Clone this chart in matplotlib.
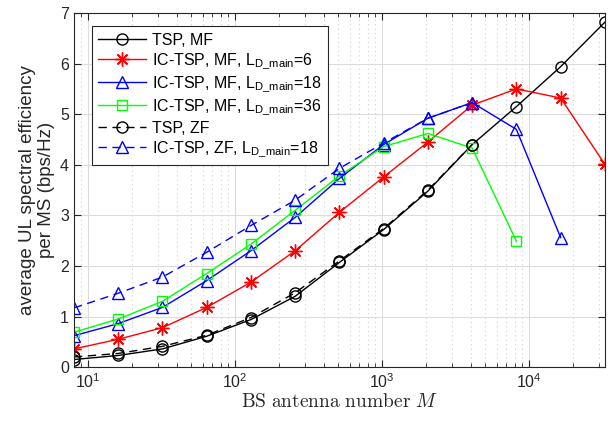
import matplotlib
matplotlib.use("Agg")
import matplotlib.pyplot as plt
from matplotlib.ticker import LogLocator, NullFormatter

plt.rcParams['font.family'] = ['Liberation Sans', 'DejaVu Sans']
plt.rcParams['mathtext.fontset'] = 'custom'
plt.rcParams['mathtext.rm'] = 'Liberation Sans'
plt.rcParams['mathtext.it'] = 'Liberation Sans:italic'

# BS antenna numbers
M = [8, 16, 32, 64, 128, 256, 512, 1024, 2048, 4096, 8192, 16384, 32768]

tsp_mf = [0.15, 0.23, 0.36, 0.61, 0.94, 1.40, 2.07, 2.72, 3.48, 4.40, 5.15, 5.94, 6.82]
ic_mf_6 = [0.36, 0.55, 0.78, 1.18, 1.68, 2.30, 3.06, 3.76, 4.45, 5.18, 5.50, 5.32, 4.01]
ic_mf_18 = [0.62, 0.86, 1.18, 1.71, 2.30, 2.96, 3.73, 4.40, 4.92, 5.23, 4.70, 2.56]
ic_mf_36 = [0.69, 0.95, 1.30, 1.85, 2.43, 3.10, 3.78, 4.36, 4.62, 4.33, 2.49]
tsp_zf = [0.20, 0.27, 0.41, 0.63, 0.98, 1.47, 2.10, 2.74, 3.50, 4.40]
ic_zf_18 = [1.17, 1.46, 1.78, 2.27, 2.80, 3.30, 3.93, 4.43, 4.92, 5.23]

fig = plt.figure(figsize=(6.11, 4.21), dpi=100)
ax = fig.add_axes([0.121, 0.128, 0.869, 0.841])

ms = 8
ax.plot(M, tsp_mf, '-', color='k', marker='o', mfc='none', ms=ms, lw=1,
        label='TSP, MF')
ax.plot(M, ic_mf_6, '-', color='r', marker=(8, 2, 0), mec='r', ms=ms + 2, lw=1,
        label=r'IC-TSP, MF, L$_{\mathrm{D\_main}}$=6')
ax.plot(M[:len(ic_mf_18)], ic_mf_18, '-', color='b', marker='^', mfc='none', ms=ms + 1, lw=1,
        label=r'IC-TSP, MF, L$_{\mathrm{D\_main}}$=18')
ax.plot(M[:len(ic_mf_36)], ic_mf_36, '-', color=(0, 1, 0), marker='s', mfc='none', ms=ms - 1, lw=1,
        label=r'IC-TSP, MF, L$_{\mathrm{D\_main}}$=36')
ax.plot(M[:len(tsp_zf)], tsp_zf, '--', color='k', marker='o', mfc='none', ms=ms, lw=1,
        dashes=(6, 4), label='TSP, ZF')
ax.plot(M[:len(ic_zf_18)], ic_zf_18, '--', color='b', marker='^', mfc='none', ms=ms + 1, lw=1,
        dashes=(6, 4), label=r'IC-TSP, ZF, L$_{\mathrm{D\_main}}$=18')

ax.set_xscale('log')
ax.set_xlim(8, 32768)
ax.set_ylim(0, 7)
ax.set_yticks(range(8))
ax.xaxis.set_minor_locator(LogLocator(base=10, subs=range(2, 10)))
ax.xaxis.set_minor_formatter(NullFormatter())

ax.grid(True, which='major', color='#dcdcdc', lw=0.8)
ax.grid(True, which='minor', axis='x', color='#d0d0d0', ls=(0, (1, 3)), lw=0.8)
ax.set_axisbelow(True)

ax.tick_params(which='both', direction='in', top=True, right=True, labelsize=11.5,
               color='#262626', labelcolor='#262626')
ax.tick_params(which='major', length=5)
ax.tick_params(which='minor', length=3)
for s in ax.spines.values():
    s.set_color('#262626')
    s.set_linewidth(0.8)

ax.set_ylabel('average UL spectral efficiency\nper MS (bps/Hz)', fontsize=13.5, color='#262626',
              linespacing=1.1)
ax.set_xlabel(r'$\mathrm{BS\ antenna\ number}\ M$', fontsize=14, math_fontfamily='cm',
              color='#262626', labelpad=2)

leg = ax.legend(loc='upper left', bbox_to_anchor=(0.034, 0.963), borderaxespad=0,
                fontsize=11.5, frameon=True, fancybox=False, edgecolor='#262626',
                framealpha=1, handlelength=3.0, handletextpad=0.35, borderpad=0.4,
                labelspacing=0.22)
leg.get_frame().set_linewidth(0.8)

fig.savefig('out.png', dpi=100)
